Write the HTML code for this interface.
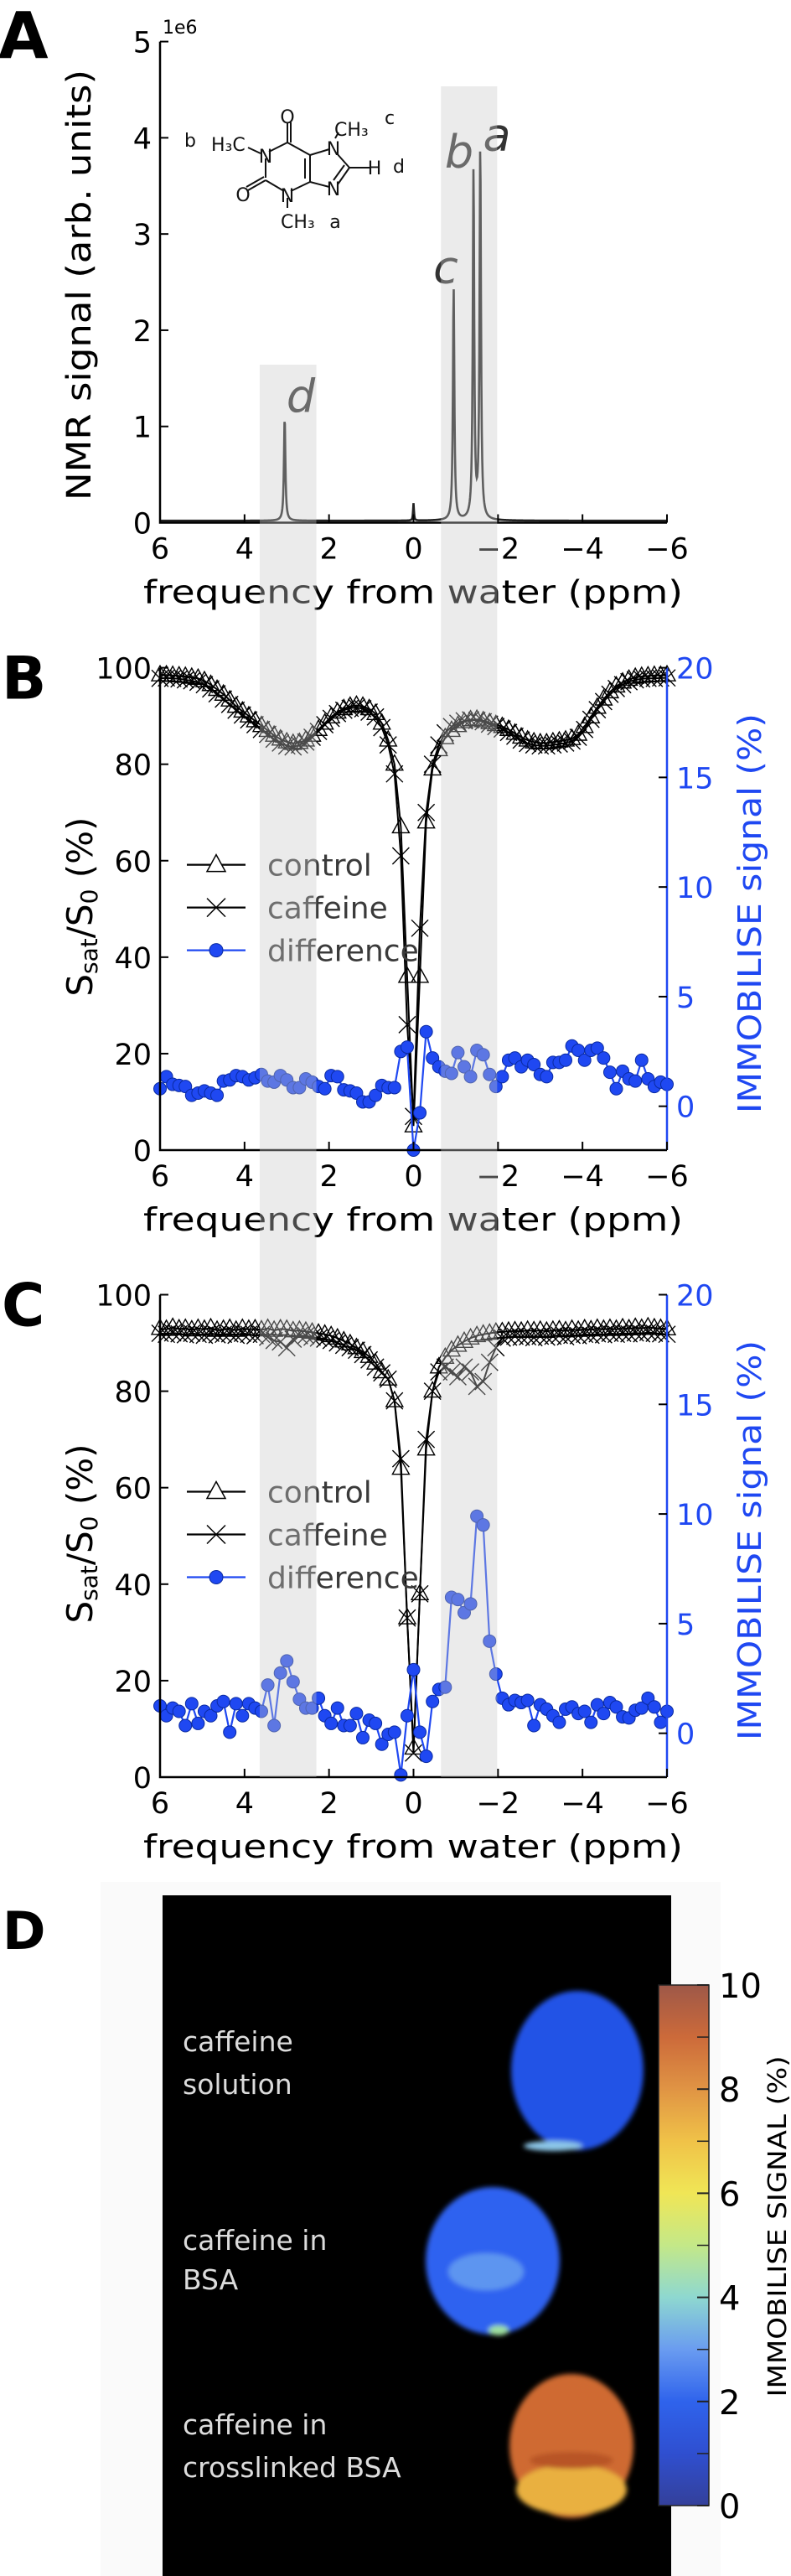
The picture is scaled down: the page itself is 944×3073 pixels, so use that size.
<!DOCTYPE html>
<html><head><meta charset="utf-8">
<style>
html,body{margin:0;padding:0;background:#fff;}
svg{display:block;}
text{font-family:"DejaVu Sans","Liberation Sans",sans-serif;}
</style></head>
<body>
<svg id="fig" width="944" height="3073" viewBox="0 0 944 3073" xmlns="http://www.w3.org/2000/svg">
<defs>
<linearGradient id="cbar" x1="0" y1="1" x2="0" y2="0">
<stop offset="0" stop-color="#34409a"/><stop offset="0.1" stop-color="#2f4fd0"/><stop offset="0.2" stop-color="#2f63ec"/>
<stop offset="0.3" stop-color="#6a9cf0"/><stop offset="0.4" stop-color="#8ed8d0"/><stop offset="0.5" stop-color="#c4e888"/>
<stop offset="0.6" stop-color="#f0e656"/><stop offset="0.7" stop-color="#f0c248"/><stop offset="0.8" stop-color="#e09444"/>
<stop offset="0.9" stop-color="#cc6a3a"/><stop offset="1" stop-color="#9e5848"/>
</linearGradient>
<filter id="blur" x="-20%" y="-20%" width="140%" height="140%"><feGaussianBlur stdDeviation="3"/></filter>
</defs>
</svg>
<script>
// ---------- data ----------
const ppm = [6,5.85,5.7,5.55,5.4,5.25,5.1,4.95,4.8,4.65,4.5,4.35,4.2,4.05,3.9,3.75,3.6,3.45,3.3,3.15,3,2.85,2.7,2.55,2.4,2.25,2.1,1.95,1.8,1.65,1.5,1.35,1.2,1.05,0.9,0.75,0.6,0.45,0.3,0.15,0,-0.15,-0.3,-0.45,-0.6,-0.75,-0.9,-1.05,-1.2,-1.35,-1.5,-1.65,-1.8,-1.95,-2.1,-2.25,-2.4,-2.55,-2.7,-2.85,-3,-3.15,-3.3,-3.45,-3.6,-3.75,-3.9,-4.05,-4.2,-4.35,-4.5,-4.65,-4.8,-4.95,-5.1,-5.25,-5.4,-5.55,-5.7,-5.85,-6];
const xTicks = [6,4,2,0,-2,-4,-6];
const xTickLabels = ["6","4","2","0","\u22122","\u22124","\u22126"];
const leftTicks = [0,20,40,60,80,100];
const rightTicks = [0,5,10,15,20];
const aTicks = [0,1,2,3,4,5];
// Panel A peaks
const peakPpm = [3.05,-0.95,-1.42,-1.58,0];
const peakHeight = [1.08,2.42,3.62,3.87,0.18];
const peakLabels = ["d","c","b","a",""];
// Panel B
const bControl = [98.5,98.5,98.4,98.3,98.2,98,97.8,97.3,96.5,95.5,94.5,93.3,92,91,90,89,88,87,86,85.2,84.6,84.3,84.5,85,86,87.2,88.5,89.8,90.8,91.5,92,92.2,92,91.5,90.5,88.5,85,80,67,36,5,36,68,79,83,85.5,87,88,88.8,89.2,89.3,89,88.6,88.2,87.8,87.2,86.4,85.6,85,84.6,84.4,84.4,84.6,84.8,85,85.3,86.2,87.8,89.8,91.8,93.5,95,96.2,97,97.6,98,98.2,98.3,98.4,98.4,98.5];
const bCaffeine = [97.8,97.9,97.8,97.7,97.5,97.3,97,96.5,95.6,94.6,93.5,92.4,91.2,90.2,89.2,88.2,87.2,86.2,85.2,84.4,83.8,83.6,84,84.6,85.6,86.8,88.2,89.5,90.5,91.2,91.6,91.8,91.5,90.8,89.8,87.6,84,78,61,26,7,46,70,80,84,86.5,87.8,88.5,89,89.2,89.1,88.8,88.3,87.8,87.3,86.6,85.8,85,84.3,84,83.8,83.8,84,84.2,84.4,84.8,85.6,87.2,89.3,91.3,93,94.5,95.7,96.5,97.1,97.5,97.7,97.8,97.8,97.9,97.9];
const bDiff = [0.8,1.35,1.0,0.95,0.9,0.5,0.6,0.7,0.6,0.5,1.15,1.2,1.4,1.35,1.2,1.3,1.45,1.15,1.1,1.4,1.2,0.85,0.85,1.25,1.1,0.9,0.8,1.4,1.35,0.75,0.7,0.6,0.2,0.2,0.5,0.95,0.85,0.85,2.5,2.7,-2.0,-0.3,3.4,2.2,1.8,1.6,1.5,2.45,1.8,1.35,2.55,2.35,1.45,0.9,1.35,2.1,2.2,1.8,2.1,1.9,1.45,1.35,2.0,2.0,2.1,2.75,2.55,2.1,2.55,2.65,2.2,1.55,0.8,1.6,1.25,1.15,2.1,1.25,0.9,1.1,1.0];
// Panel C
const cControl = [93,92.8,93.2,92.9,93,92.7,93,92.8,93.1,92.6,92.8,93,92.6,93,92.8,92.9,92.7,93,92.6,92.9,92.8,92.5,92.6,92.4,92.2,92,91.8,91.5,91,90.4,89.8,89,88.2,87.2,85.8,84,82.5,78,64,33,6,38,68,80,85,87,88.5,89.5,90.3,91,91.5,91.8,92,92.2,92.3,92.4,92.5,92.4,92.6,92.5,92.6,92.4,92.6,92.7,92.5,92.8,92.6,92.9,92.7,93,92.8,93,92.8,93.1,92.9,93.2,93,93.3,93.1,93,92.9];
const cCaffeine = [92,91.8,92.1,91.9,91.7,92,91.8,91.6,92,91.7,91.8,91.9,91.6,92,91.8,91.5,91.8,91.2,90.5,90.2,89,90.8,91.5,91.5,91.2,91,90.8,90.5,90,89.5,89,88.5,87.6,86.5,85,83.8,82.5,78,66,33,5,38,70,80,84,85,84,83,85,84,81,82,86,89,91,91.2,91.4,91.2,91.3,91.1,91.4,91.2,91.4,91.6,91.3,91.6,91.5,91.8,91.6,91.9,91.7,92,91.8,92,91.9,92.1,91.9,92.2,92,91.9,91.8];
const cDiff = [1.25,0.8,1.15,1.0,0.35,1.35,0.45,1.0,0.8,1.25,1.45,0.05,1.35,0.8,1.35,1.15,1.0,2.2,0.35,2.75,3.3,2.35,1.55,1.15,1.15,1.6,0.8,0.45,1.15,0.35,0.35,0.9,-0.2,0.6,0.45,-0.5,-0.05,0.05,-1.9,0.8,2.9,0.05,-1.05,1.45,2.0,2.1,6.2,6.1,5.5,5.9,9.9,9.5,4.2,2.7,1.6,1.3,1.5,1.4,1.5,0.35,1.3,1.1,0.8,0.5,1.1,1.2,0.9,1.0,0.5,1.3,0.9,1.4,1.2,0.75,0.7,1.05,1.15,1.6,1.2,0.5,1.0];
// Panel D colorbar
const cbTicks = [0,2,4,6,8,10];
const cbMinor = [1,3,5,7,9];
const bands = [[3.64,2.3,435],[-0.65,-1.98,103]];

// ---------- helpers ----------
const NS = "http://www.w3.org/2000/svg";
const svg = document.getElementById("fig");
function mk(tag, attrs, parent){
  const e = document.createElementNS(NS, tag);
  for (const k in attrs) e.setAttribute(k, attrs[k]);
  (parent||svg).appendChild(e);
  return e;
}
function txt(s, attrs, parent){ const e = mk("text", attrs, parent); e.textContent = s; return e; }

const L = 191, R = 796, BLUE = "#1f48f2";
const xs = p => L + (6 - p) / 12 * (R - L);

function xAxis(bottom, g){
  xTicks.forEach((t,i)=>{
    const tk = mk("line",{x1:xs(t),x2:xs(t),y1:bottom,y2:bottom-10,stroke:"#000","stroke-width":2},g);
    
    
    const lb = txt(xTickLabels[i],{x:xs(t),y:bottom+43,"text-anchor":"middle","font-size":35},g);
    
    
  });
  const xl = txt("frequency from water (ppm)",{x:493,y:bottom+96,"text-anchor":"middle","font-size":38,textLength:644,lengthAdjust:"spacingAndGlyphs"},g);
  
  
}

// ---------- Panel A ----------
(function(){
  const g = mk("g",{});
  
  
  const T = 49.6, B = 623.5;
  const ys = v => B - v / 5 * (B - T);
  const lab = txt("A",{x:-2,y:69,"font-size":77,"font-weight":"bold","font-family":"Liberation Sans, sans-serif"},g);
  
  
  // spectrum
  let d = "";
  for (let px = L; px <= R; px += 0.5){
    const p = 6 - (px - L) / (R - L) * 12;
    let v = 0.02;
    peakPpm.forEach((c,i)=>{
      const w = i === 4 ? 0.012 : 0.02;
      v += peakHeight[i] * (w*w) / ((p-c)*(p-c) + w*w);
    });
    d += (d ? "L" : "M") + px.toFixed(1) + "," + ys(v).toFixed(2);
  }
  const sp = mk("path",{d:d,fill:"none",stroke:"#222","stroke-width":2.6},g);
  
  
  // peak labels
  const lx = [359,532,548,593];
  peakLabels.forEach((s,i)=>{
    if(!s) return;
    const t = txt(s,{x:lx[i],y:ys(peakHeight[i])-(i===3?-0:8),"text-anchor":"middle","font-size":54,"font-style":"italic","font-family":"Liberation Serif, serif",fill:"#333"},g);
    
    
  });
  // axes
  const ax = mk("path",{d:`M${L},${T}V${B}H${R}`,fill:"none",stroke:"#000","stroke-width":2.5},g);
  
  
  aTicks.forEach(t=>{
    const tk = mk("line",{x1:L,x2:L+10,y1:ys(t),y2:ys(t),stroke:"#000","stroke-width":2},g);
    
    
    const lb = txt(String(t),{x:181,y:ys(t)+13,"text-anchor":"end","font-size":35},g);
    
    
  });
  const ex = txt("1e6",{x:194,y:40,"font-size":22},g);
  
  
  const yl = txt("NMR signal (arb. units)",{x:0,y:0,"text-anchor":"middle","font-size":40,textLength:514,lengthAdjust:"spacingAndGlyphs",transform:"translate(108,340) rotate(-90)"},g);
  
  
  xAxis(B, g);
  // caffeine structure
  const s = mk("g",{stroke:"#111","stroke-width":2,fill:"none"},g);
  
  
  const bonds = [[343,146,343,170],[347,146,347,170],[343,170,321,181],[317,189,317,212],[317,215,296,227],[315,211,294,223],[317,215,339,228],[347,228,370,217],[370,217,370,185],[364,213,364,189],[370,185,343,170],[370,185,393,178],[370,217,393,223],[401,182,417,200],[417,200,403,220],[411,197,398,215],[417,200,441,200],[343,236,343,248],[311,183,296,176],[400,165,404,158]];
  bonds.forEach(b=>mk("line",{x1:b[0],y1:b[1],x2:b[2],y2:b[3]},s));
  const atoms = [["O",343,147],["N",317,194],["O",290,240],["N",343,241],["N",398,185],["N",398,233],["H",447,208]];
  atoms.forEach(a=>txt(a[0],{x:a[1],y:a[2],"text-anchor":"middle","font-size":22,fill:"#111",stroke:"none","font-family":"Liberation Sans, sans-serif"},s));
  const ch = [["CH\u2083",399,162],["H\u2083C",252,180],["CH\u2083",335,272]];
  ch.forEach(a=>txt(a[0],{x:a[1],y:a[2],"font-size":22,fill:"#111",stroke:"none","font-family":"Liberation Sans, sans-serif"},s));
  [["b",227,175],["c",465,148],["d",476,206],["a",400,272]].forEach(a=>txt(a[0],{x:a[1],y:a[2],"text-anchor":"middle","font-size":22,fill:"#111",stroke:"none","font-family":"Liberation Serif, serif"},s));
})();

// ---------- Panels B, C ----------
function zPanel(name, letter, T, B, ctrl, caf, diff){
  const g = mk("g",{});
  
  
  const yl = v => B - v / 100 * (B - T);
  const yr = v => B - (v + 2) / 22 * (B - T);
  const lab = txt(letter,{x:2,y:T+37,"font-size":70,"font-weight":"bold","font-family":"Liberation Sans, sans-serif"},g);
  
  
  const line = (arr, f) => arr.map((v,i)=>(i?"L":"M")+xs(ppm[i]).toFixed(1)+","+f(v).toFixed(1)).join("");
  const cl = mk("path",{d:line(ctrl,yl),fill:"none",stroke:"#000","stroke-width":2},g);
  
  
  const fl = mk("path",{d:line(caf,yl),fill:"none",stroke:"#000","stroke-width":2},g);
  
  
  ctrl.forEach((v,i)=>{
    const x = xs(ppm[i]), y = yl(v);
    const m = mk("path",{d:`M${x},${y-11}L${x+10},${y+7}L${x-10},${y+7}Z`,fill:"none",stroke:"#000","stroke-width":1.4},g);
    
    
  });
  caf.forEach((v,i)=>{
    const x = xs(ppm[i]), y = yl(v);
    const m = mk("path",{d:`M${x-10},${y-10}L${x+10},${y+10}M${x-10},${y+10}L${x+10},${y-10}`,fill:"none",stroke:"#000","stroke-width":1.4},g);
    
    
  });
  const dl = mk("path",{d:line(diff,yr),fill:"none",stroke:BLUE,"stroke-width":2.2},g);
  
  
  diff.forEach((v,i)=>{
    const m = mk("circle",{cx:xs(ppm[i]),cy:yr(v),r:7.5,fill:BLUE,stroke:"#0a2aa0","stroke-width":1},g);
    
    
  });
  // axes
  const ax = mk("path",{d:`M${L},${T}V${B}H${R}`,fill:"none",stroke:"#000","stroke-width":2.5},g);
  
  
  const rs = mk("line",{x1:R,x2:R,y1:T,y2:B,stroke:BLUE,"stroke-width":2.5},g);
  
  
  leftTicks.forEach(t=>{
    const tk = mk("line",{x1:L,x2:L+10,y1:yl(t),y2:yl(t),stroke:"#000","stroke-width":2},g);
    
    
    const lb = txt(String(t),{x:181,y:yl(t)+13,"text-anchor":"end","font-size":35},g);
    
    
  });
  rightTicks.forEach(t=>{
    const tk = mk("line",{x1:R,x2:R-10,y1:yr(t),y2:yr(t),stroke:"#000","stroke-width":2},g);
    
    
    const lb = txt(String(t),{x:807,y:yr(t)+13,"font-size":35,fill:BLUE},g);
    
    
  });
  const ylab = txt("",{x:0,y:0,"text-anchor":"middle","font-size":42,transform:`translate(110,${T+285}) rotate(-90)`},g);
  
  
  const t1 = mk("tspan",{},ylab); t1.textContent = "S";
  const t2 = mk("tspan",{"font-size":28,dy:6}, ylab); t2.textContent = "sat";
  const t3 = mk("tspan",{dy:-6},ylab); t3.textContent = "/S";
  const t4 = mk("tspan",{"font-size":28,dy:6},ylab); t4.textContent = "0";
  const t5 = mk("tspan",{dy:-6},ylab); t5.textContent = " (%)";
  const rl = txt("IMMOBILISE signal (%)",{x:0,y:0,"text-anchor":"middle","font-size":38,fill:BLUE,textLength:477,lengthAdjust:"spacingAndGlyphs",transform:`translate(908,${T+293}) rotate(-90)`},g);
  
  
  // legend
  const lg = mk("g",{},g);
  
  
  const rows = [["control",T+235],["caffeine",T+286],["difference",T+337]];
  rows.forEach((r,i)=>{
    const col = i===2 ? BLUE : "#000";
    const ln = mk("line",{x1:223,x2:293,y1:r[1],y2:r[1],stroke:col,"stroke-width":2.2},lg);
    
    
    const x = 258, y = r[1];
    if(i===0) mk("path",{d:`M${x},${y-12}L${x+11},${y+8}L${x-11},${y+8}Z`,fill:"#fff",stroke:"#000","stroke-width":1.5},lg);
    if(i===1) mk("path",{d:`M${x-11},${y-11}L${x+11},${y+11}M${x-11},${y+11}L${x+11},${y-11}`,stroke:"#000","stroke-width":1.5},lg);
    if(i===2) mk("circle",{cx:x,cy:y,r:8,fill:BLUE,stroke:"#0a2aa0"},lg);
    const t = txt(r[0],{x:319,y:r[1]+13,"font-size":36,fill:"#3a3a3a"},lg);
    
    
  });
  xAxis(B, g);
}
zPanel("panel-b-z-spectrum","B",796.6,1372,bControl,bCaffeine,bDiff);
zPanel("panel-c-z-spectrum","C",1544.5,2120,cControl,cCaffeine,cDiff);

// shaded bands across A-C
bands.forEach((b,i)=>{
  const r = mk("rect",{x:xs(b[0]),y:b[2],width:xs(b[1])-xs(b[0]),height:2120-b[2],fill:"rgba(200,200,200,0.37)"});
  
  
});

// ---------- Panel D ----------
(function(){
  const g = mk("g",{});
  
  
  const bgp = mk("rect",{x:120,y:2245,width:740,height:828,fill:"#fafafa"},g);
  
  
  const lab = txt("D",{x:3,y:2325,"font-size":62,"font-weight":"bold","font-family":"Liberation Sans, sans-serif"},g);
  
  
  const bk = mk("rect",{x:194,y:2261,width:607,height:812,fill:"#000"},g);
  
  
  const blobs = mk("g",{filter:"url(#blur)"},g);
  
  
  mk("ellipse",{cx:689,cy:2470,rx:79,ry:95,fill:"#2352e6"},blobs);
  mk("ellipse",{cx:660,cy:2560,rx:35,ry:6,fill:"#8cc6e8"},blobs);
  mk("ellipse",{cx:588,cy:2697,rx:80,ry:88,fill:"#2f62f0"},blobs);
  mk("ellipse",{cx:580,cy:2710,rx:45,ry:22,fill:"#5d95f0"},blobs);
  mk("ellipse",{cx:595,cy:2780,rx:12,ry:6,fill:"#9ee0a0"},blobs);
  mk("ellipse",{cx:682,cy:2918,rx:74,ry:86,fill:"#cf6a32"},blobs);
  mk("ellipse",{cx:682,cy:2970,rx:66,ry:30,fill:"#e9b040"},blobs);
  mk("ellipse",{cx:682,cy:2935,rx:50,ry:10,fill:"#b85528"},blobs);
  const lbl = [["caffeine",2447],["solution",2498],["caffeine in",2684],["BSA",2731],["caffeine in",2904],["crosslinked BSA",2955]];
  lbl.forEach(l=>{
    const t = txt(l[0],{x:218,y:l[1],"font-size":33,fill:"#dcdcdc","font-family":"Liberation Sans, sans-serif"},g);
    
    
  });
  const cT = 2368, cB = 2989;
  const cy = v => cB - v / 10 * (cB - cT);
  const cb = mk("rect",{x:786,y:cT,width:60,height:cB-cT,fill:"url(#cbar)",stroke:"#222","stroke-width":1.5},g);
  
  
  cbTicks.forEach(t=>{
    const tk = mk("line",{x1:832,x2:846,y1:cy(t),y2:cy(t),stroke:"#222","stroke-width":2},g);
    
    
    const lb = txt(String(t),{x:858,y:cy(t)+15,"font-size":40,"font-family":"Liberation Sans, sans-serif"},g);
    
    
  });
  cbMinor.forEach(t=>{
    const tk = mk("line",{x1:832,x2:846,y1:cy(t),y2:cy(t),stroke:"#222","stroke-width":1.5},g);
    
    
  });
  const cl = txt("IMMOBILISE SIGNAL (%)",{x:0,y:0,"text-anchor":"middle","font-size":30,textLength:407,lengthAdjust:"spacingAndGlyphs","font-family":"Liberation Sans, sans-serif",transform:"translate(938,2656) rotate(-90)"},g);
  
  
})();
</script>
</body></html>
